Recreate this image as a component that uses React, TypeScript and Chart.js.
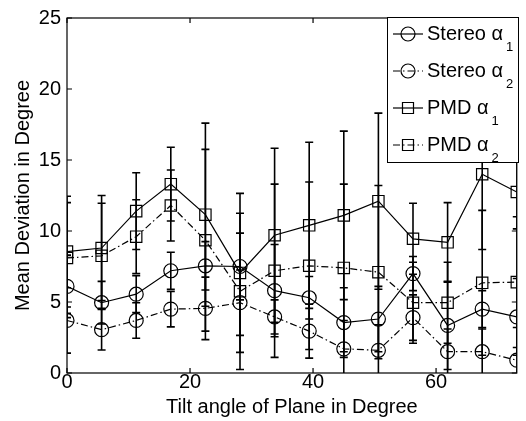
import React, { useEffect, useRef } from 'react';
import { Chart, registerables } from 'chart.js';

Chart.register(...registerables);

// ---- data ----
const tiltAngles = [0, 5.625, 11.25, 16.875, 22.5, 28.125, 33.75, 39.375, 45, 50.625, 56.25, 61.875, 67.5, 73.125];

const stereoAlpha1 = [6.1, 4.95, 5.55, 7.2, 7.55, 7.5, 5.8, 5.3, 3.55, 3.8, 7.0, 3.35, 4.5, 3.95];
const stereoAlpha2 = [3.7, 3.05, 3.7, 4.5, 4.55, 4.95, 3.95, 2.95, 1.7, 1.6, 3.9, 1.5, 1.5, 0.9];
const pmdAlpha1 = [8.55, 8.8, 11.4, 13.3, 11.15, 7.05, 9.7, 10.4, 11.1, 12.1, 9.45, 9.2, 14.0, 12.75];
const pmdAlpha2 = [8.1, 8.25, 9.6, 11.8, 9.35, 5.75, 7.2, 7.55, 7.4, 7.1, 4.95, 4.95, 6.35, 6.4];

const stereoAlpha1Err = [2.2, 1.5, 1.3, 1.3, 1.7, 2.35, 3.25, 1.5, 2.45, 2.3, 1.2, 3.1, 1.3, 2.7];
const stereoAlpha2Err = [2.3, 1.43, 1.25, 1.25, 2.2, 2.3, 1.2, 1.9, 2.0, 1.8, 1.6, 1.6, 1.6, 2.3];
const pmdAlpha1Err = [3.9, 3.7, 2.7, 2.6, 6.45, 5.6, 6.13, 5.85, 5.93, 6.2, 2.5, 2.8, 5.3, 2.6];
const pmdAlpha2Err = [3.9, 3.7, 2.6, 2.5, 6.4, 5.5, 6.1, 5.9, 5.9, 6.1, 2.85, 2.85, 5.1, 4.6];

const seriesNames = ['Stereo α', 'Stereo α', 'PMD α', 'PMD α'];
const seriesSubscripts = ['1', '2', '1', '2'];

const xTickValues = [0, 20, 40, 60];
const yTickValues = [0, 5, 10, 15, 20, 25];
const xMin = 0;
const xMax = 73.125;
const yMin = 0;
const yMax = 25;

const xTitle = 'Tilt angle of Plane in Degree';
const yTitle = 'Mean Deviation in Degree';

const FONT = '"Liberation Sans", Arial, Helvetica, sans-serif';
const DASHDOT = [7, 3, 1.5, 3];

const seriesValues = [stereoAlpha1, stereoAlpha2, pmdAlpha1, pmdAlpha2];
const seriesErrors = [stereoAlpha1Err, stereoAlpha2Err, pmdAlpha1Err, pmdAlpha2Err];
const seriesMarker = ['circle', 'circle', 'rect', 'rect'];
const seriesDash = [[], DASHDOT, [], DASHDOT];

const errorBarPlugin = {
  id: 'errorBars',
  beforeDatasetsDraw(chart: any) {
    const { ctx, chartArea, scales } = chart;
    const xs = scales.x;
    const ys = scales.y;
    ctx.save();
    ctx.beginPath();
    ctx.rect(chartArea.left, chartArea.top, chartArea.right - chartArea.left, chartArea.bottom - chartArea.top);
    ctx.clip();
    ctx.strokeStyle = '#000';
    ctx.lineWidth = 1.6;
    ctx.setLineDash([]);
    seriesValues.forEach((vals, si) => {
      const errs = seriesErrors[si];
      vals.forEach((v, j) => {
        const x = xs.getPixelForValue(tiltAngles[j]);
        const yt = ys.getPixelForValue(v + errs[j]);
        const yb = ys.getPixelForValue(v - errs[j]);
        ctx.beginPath();
        ctx.moveTo(x, yt);
        ctx.lineTo(x, yb);
        ctx.moveTo(x - 4, yt);
        ctx.lineTo(x + 4, yt);
        ctx.moveTo(x - 4, yb);
        ctx.lineTo(x + 4, yb);
        ctx.stroke();
      });
    });
    ctx.restore();
  },
};

const framePlugin = {
  id: 'frame',
  afterDatasetsDraw(chart: any) {
    const { ctx, chartArea, scales } = chart;
    const { left, right, top, bottom } = chartArea;
    ctx.save();
    ctx.strokeStyle = '#000';
    ctx.setLineDash([]);
    ctx.lineWidth = 1.2;
    ctx.strokeRect(left, top, right - left, bottom - top);
    const tl = 5;
    ctx.beginPath();
    xTickValues.forEach((v) => {
      const x = scales.x.getPixelForValue(v);
      ctx.moveTo(x, bottom);
      ctx.lineTo(x, bottom - tl);
      ctx.moveTo(x, top);
      ctx.lineTo(x, top + tl);
    });
    yTickValues.forEach((v) => {
      const y = scales.y.getPixelForValue(v);
      ctx.moveTo(left, y);
      ctx.lineTo(left + tl, y);
      ctx.moveTo(right, y);
      ctx.lineTo(right - tl, y);
    });
    ctx.stroke();
    ctx.restore();
  },
};

const legendPlugin = {
  id: 'customLegend',
  afterDraw(chart: any) {
    const { ctx } = chart;
    const bx = 387.5, by = 17.5, bw = 131, bh = 145;
    ctx.save();
    ctx.setLineDash([]);
    ctx.fillStyle = '#fff';
    ctx.fillRect(bx, by, bw, bh);
    ctx.strokeStyle = '#000';
    ctx.lineWidth = 1;
    ctx.strokeRect(bx, by, bw, bh);
    seriesNames.forEach((name, i) => {
      const cy = 34 + i * 37;
      ctx.strokeStyle = '#000';
      ctx.lineWidth = 1.2;
      ctx.setLineDash(seriesDash[i]);
      ctx.beginPath();
      ctx.moveTo(393, cy);
      ctx.lineTo(423, cy);
      ctx.stroke();
      ctx.setLineDash([]);
      ctx.beginPath();
      if (seriesMarker[i] === 'circle') {
        ctx.arc(408, cy, 7, 0, Math.PI * 2);
      } else {
        ctx.rect(402.5, cy - 5.5, 11, 11);
      }
      ctx.stroke();
      ctx.fillStyle = '#000';
      ctx.font = `20px ${FONT}`;
      ctx.textBaseline = 'middle';
      ctx.textAlign = 'left';
      ctx.fillText(name, 427, cy);
      const w = ctx.measureText(name).width;
      ctx.font = `13px ${FONT}`;
      ctx.textBaseline = 'alphabetic';
      ctx.fillText(seriesSubscripts[i], 427 + w + 3, cy + 17);
    });
    ctx.restore();
  },
};

export default function App() {
  const canvasRef = useRef<HTMLCanvasElement | null>(null);

  useEffect(() => {
    document.body.style.margin = '0';
    const canvas = canvasRef.current;
    if (!canvas) return;
    const datasets = seriesValues.map((vals, i) => ({
      label: seriesNames[i] + seriesSubscripts[i],
      data: vals.map((v, j) => ({ x: tiltAngles[j], y: v })),
      borderColor: '#000',
      borderWidth: 1.2,
      borderDash: seriesDash[i],
      backgroundColor: 'rgba(0,0,0,0)',
      pointStyle: seriesMarker[i],
      pointRadius: seriesMarker[i] === 'circle' ? 7 : 8,
      pointBorderWidth: 1.2,
      pointBorderColor: '#000',
      pointBackgroundColor: 'rgba(0,0,0,0)',
      tension: 0,
      fill: false,
    }));
    const chart = new Chart(canvas, {
      type: 'line',
      data: { datasets },
      options: {
        animation: false,
        responsive: false,
        devicePixelRatio: 1,
        layout: { padding: { top: 13, right: 5, left: 0, bottom: 0 } },
        plugins: { legend: { display: false }, tooltip: { enabled: false } },
        scales: {
          x: {
            type: 'linear',
            min: xMin,
            max: xMax,
            afterBuildTicks: (s: any) => {
              s.ticks = xTickValues.map((v) => ({ value: v }));
            },
            afterFit: (s: any) => {
              s.height = 48;
            },
            grid: { display: false, drawTicks: false },
            border: { display: false },
            ticks: {
              color: '#000',
              padding: -3,
              maxRotation: 0,
              autoSkip: false,
              font: { family: FONT, size: 20 },
            },
            title: {
              display: true,
              text: xTitle,
              color: '#000',
              font: { family: FONT, size: 20 },
              padding: { top: 0, bottom: 2 },
            },
          },
          y: {
            type: 'linear',
            min: yMin,
            max: yMax,
            afterBuildTicks: (s: any) => {
              s.ticks = yTickValues.map((v) => ({ value: v }));
            },
            afterFit: (s: any) => {
              s.width = 67;
            },
            grid: { display: false, drawTicks: false },
            border: { display: false },
            ticks: {
              color: '#000',
              padding: 6,
              autoSkip: false,
              font: { family: FONT, size: 20 },
            },
            title: {
              display: true,
              text: yTitle,
              color: '#000',
              font: { family: FONT, size: 20 },
              padding: { top: 11, bottom: 0 },
            },
          },
        },
      },
      plugins: [errorBarPlugin, framePlugin, legendPlugin],
    } as any);
    return () => chart.destroy();
  }, []);

  return (
    <div style={{ position: 'absolute', left: 0, top: 0, width: 526, height: 421, background: '#fff' }}>
      <canvas ref={canvasRef} width={526} height={421} />
    </div>
  );
}
